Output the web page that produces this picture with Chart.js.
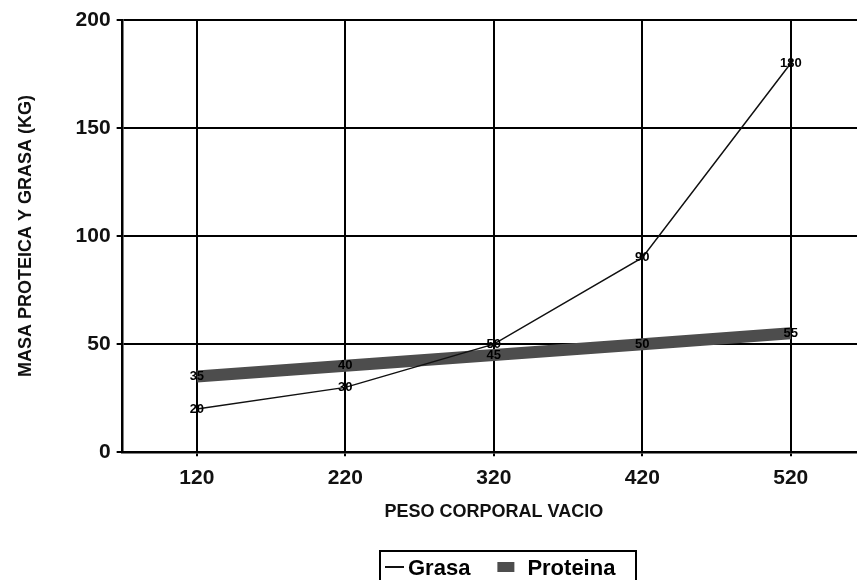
<!DOCTYPE html>
<html>
<head>
<meta charset="utf-8">
<script src="https://cdn.jsdelivr.net/npm/chart.js@4.4.1/dist/chart.umd.min.js"></script>
<style>
  html, body { margin: 0; padding: 0; background: #fff; overflow: hidden; }
  #wrap { width: 865px; height: 580px; }
</style>
</head>
<body>
<div id="wrap"><canvas id="grafico" width="865" height="580"></canvas></div>
<script>
const pesos = ['120', '220', '320', '420', '520'];
const grasa = [20, 30, 50, 90, 180];
const proteina = [35, 40, 45, 50, 55];
const ticksY = [0, 50, 100, 150, 200];

const fuente = '"Liberation Sans", Arial, sans-serif';

// etiquetas de valor sobre cada punto
const etiquetas = {
  id: 'etiquetas',
  afterDatasetsDraw(chart) {
    const ctx = chart.ctx;
    ctx.save();
    ctx.font = 'bold 13px ' + fuente;
    ctx.fillStyle = '#000';
    ctx.textAlign = 'center';
    ctx.textBaseline = 'middle';
    chart.data.datasets.forEach((ds, i) => {
      chart.getDatasetMeta(i).data.forEach((pt, j) => {
        ctx.fillText(String(ds.data[j]), pt.x, pt.y);
      });
    });
    ctx.restore();
  }
};

// leyenda con marco, dibujada a mano
const leyenda = {
  id: 'leyenda',
  afterDraw(chart) {
    const ctx = chart.ctx;
    const caja = { x: 380, y: 551, w: 256, h: 40 };
    const yc = 569;
    ctx.save();
    ctx.strokeStyle = '#000';
    ctx.lineWidth = 2;
    ctx.strokeRect(caja.x, caja.y, caja.w, caja.h);
    ctx.font = 'bold 22px ' + fuente;
    ctx.fillStyle = '#000';
    ctx.textBaseline = 'middle';
    let x = caja.x + 5;
    chart.data.datasets.forEach((ds, i) => {
      if (ds.pointStyle === 'line') {
        ctx.strokeStyle = ds.borderColor;
        ctx.lineWidth = 2;
        ctx.beginPath();
        ctx.moveTo(x, yc - 2);
        ctx.lineTo(x + 19, yc - 2);
        ctx.stroke();
        x += 23;
      } else {
        x += 4;
        ctx.fillStyle = ds.borderColor;
        ctx.fillRect(x, yc - 7, 17, 10);
        x += 30;
      }
      ctx.fillStyle = '#000';
      ctx.fillText(ds.label, x, yc);
      x += ctx.measureText(ds.label).width + 23;
    });
    ctx.restore();
  }
};

new Chart(document.getElementById('grafico'), {
  type: 'line',
  data: {
    labels: pesos,
    datasets: [
      {
        label: 'Grasa',
        data: grasa,
        borderColor: '#111',
        borderWidth: 1.5,
        pointRadius: 0,
        pointStyle: 'line',
        tension: 0
      },
      {
        label: 'Proteina',
        data: proteina,
        borderColor: '#4d4d4d',
        borderWidth: 12,
        pointRadius: 0,
        pointStyle: 'rect',
        tension: 0
      }
    ]
  },
  options: {
    responsive: false,
    animation: false,
    devicePixelRatio: 1,
    layout: { padding: { top: 20, left: 15, right: 0, bottom: 30 } },
    scales: {
      x: {
        offset: true,
        grid: { color: '#000', lineWidth: 2, offset: false, tickLength: 4 },
        border: { color: '#000', width: 2.5 },
        ticks: { color: '#111', font: { family: fuente, size: 21, weight: 'bold' }, padding: 9 },
        title: {
          display: true,
          text: 'PESO CORPORAL VACIO',
          color: '#111',
          font: { family: fuente, size: 18, weight: 'bold' },
          padding: { top: 2, bottom: 27 }
        }
      },
      y: {
        min: 0,
        max: 200,
        afterBuildTicks(axis) { axis.ticks = ticksY.map(v => ({ value: v })); },
        grid: { color: '#000', lineWidth: 2, tickLength: 6 },
        border: { color: '#000', width: 2.5 },
        ticks: { color: '#111', font: { family: fuente, size: 21, weight: 'bold' }, padding: 6 },
        title: {
          display: true,
          text: 'MASA PROTEICA Y GRASA (KG)',
          color: '#111',
          font: { family: fuente, size: 18, weight: 'bold' },
          padding: { top: 0, bottom: 33 }
        }
      }
    },
    plugins: {
      legend: { display: false },
      tooltip: { enabled: false }
    }
  },
  plugins: [etiquetas, leyenda]
});
</script>
</body>
</html>
